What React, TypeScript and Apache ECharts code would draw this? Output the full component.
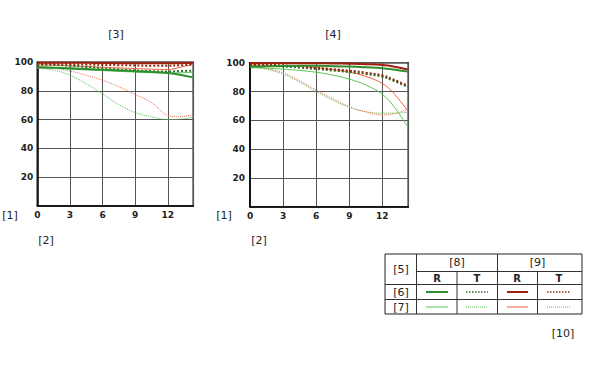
import React, { useEffect, useRef } from "react";
import * as echarts from "echarts";

// image height positions (mm) at which curves are read
const xPos = [0, 1.5, 3, 4.5, 6, 7.5, 9, 10.5, 12, 13, 14.3];
const xTicks = [0, 3, 6, 9, 12];
const yTicks = [20, 40, 60, 80, 100];

// Chart [3]
const c1GreenThickR = [96.5, 96.2, 95.8, 95.3, 94.8, 94.3, 93.8, 93.3, 92.6, 91.5, 89.5];
const c1GreenThickT = [98.5, 98.2, 97.6, 96.8, 95.8, 95.0, 94.3, 93.8, 93.6, 93.8, 94.2];
const c1GreenThinR = [96.0, 95.7, 95.2, 94.7, 94.2, 93.7, 93.2, 92.8, 92.5, 92.7, 93.0];
const c1GreenThinT = [96.0, 94.5, 91.0, 85.0, 78.0, 70.5, 65.0, 62.0, 60.0, 60.3, 61.5];
const c1RedThickR = [99.7, 99.7, 99.6, 99.6, 99.5, 99.4, 99.3, 99.3, 99.3, 99.4, 99.5];
const c1RedThickT = [99.3, 99.1, 98.8, 98.5, 98.2, 98.0, 97.8, 97.6, 97.6, 97.9, 98.3];
const c1RedThinR = [98.2, 98.0, 97.6, 97.1, 96.6, 96.1, 95.6, 95.2, 95.0, 96.3, 98.6];
const c1RedThinT = [97.5, 96.0, 94.0, 91.0, 87.5, 83.0, 77.5, 72.0, 63.0, 62.0, 63.5];

// Chart [4]
const c2GreenThickR = [97.2, 97.5, 97.7, 97.8, 97.8, 97.6, 97.3, 96.8, 96.2, 95.3, 93.8];
const c2GreenThickT = [98.3, 98.0, 97.4, 96.6, 95.6, 94.6, 93.5, 92.2, 90.3, 87.5, 83.2];
const c2GreenThinR = [96.5, 96.2, 95.5, 94.6, 93.4, 91.4, 88.6, 84.5, 78.0, 70.0, 55.5];
const c2GreenThinT = [97.5, 95.5, 92.0, 86.5, 80.0, 74.0, 69.0, 66.0, 65.0, 65.0, 65.5];
const c2RedThickR = [99.8, 99.8, 99.7, 99.7, 99.6, 99.5, 99.3, 99.0, 98.4, 97.4, 95.3];
const c2RedThickT = [98.8, 98.6, 98.1, 97.4, 96.5, 95.5, 94.5, 93.1, 91.2, 88.3, 84.0];
const c2RedThinR = [98.5, 98.3, 98.0, 97.4, 96.6, 95.2, 93.4, 90.5, 85.5, 79.0, 66.5];
const c2RedThinT = [98.0, 96.0, 93.0, 87.5, 81.0, 75.0, 69.5, 65.8, 63.8, 64.5, 67.5];

const COL = {
  greenThick: "#2e8e2e",
  greenThickDot: "#2f6f22",
  greenThin: "#58c658",
  greenThinDot: "#52be52",
  redThick: "#a11f0e",
  redThickDot: "#8a2c10",
  redThin: "#f0603c",
  redThinDot: "#ee6c4c",
};

const pairs = (ys: number[]) => ys.map((y, i) => [xPos[i], y]);

function mkSeries(idx: number, d: number[][]) {
  const [gThR, gThT, gTnR, gTnT, rThR, rThT, rTnR, rTnT] = d;
  const base = (data: number[], color: string, width: number, type: string) => ({
    type: "line",
    xAxisIndex: idx,
    yAxisIndex: idx,
    data: pairs(data),
    smooth: 0.4,
    showSymbol: false,
    symbol: "none",
    lineStyle: { color, width, type },
    z: 3,
  });
  return [
    base(gTnT, COL.greenThinDot, 1, "dotted"),
    base(rTnT, COL.redThinDot, 1, "dotted"),
    base(gTnR, COL.greenThin, 1, "solid"),
    base(rTnR, COL.redThin, 1, "solid"),
    base(gThT, COL.greenThickDot, 2, "dotted"),
    base(rThT, COL.redThickDot, 2, "dotted"),
    base(gThR, COL.greenThick, 2, "solid"),
    base(rThR, COL.redThick, 2, "solid"),
  ];
}

const FONT_BR = '11px "DejaVu Sans", sans-serif';
const txt = (text: string, x: number, y: number, font = FONT_BR) => ({
  type: "text",
  x,
  y,
  style: { text, fill: "#222", font, textAlign: "center", textVerticalAlign: "middle" },
  z: 10,
});
const ln = (x1: number, y1: number, x2: number, y2: number, stroke = "#333", lineWidth = 1, lineDash?: number[]) => ({
  type: "line",
  shape: { x1, y1, x2, y2 },
  style: { stroke, lineWidth, lineDash },
  z: 10,
});

export default function App() {
  const ref = useRef<HTMLDivElement>(null);
  useEffect(() => {
    if (!ref.current) return;
    const chart = echarts.init(ref.current, undefined, { renderer: "svg" });
    const axisLabelFont = { fontFamily: "DejaVu Sans", fontSize: 9, fontWeight: "bold" as const, color: "#222" };
    const xAxis = (gi: number) => ({
      type: "value",
      gridIndex: gi,
      min: 0,
      max: 14.35,
      interval: 3,
      axisLine: { show: true, lineStyle: { color: "#000", width: 1.5 } },
      axisTick: { show: false },
      splitLine: { show: true, lineStyle: { color: "#555", width: 1 } },
      axisLabel: {
        ...axisLabelFont,
        margin: 5,
        showMaxLabel: false,
        formatter: (v: number) => (xTicks.includes(v) ? String(v) : ""),
      },
    });
    const yAxis = (gi: number, margin: number) => ({
      type: "value",
      gridIndex: gi,
      min: 0,
      max: 100,
      interval: 20,
      axisLine: { show: true, lineStyle: { color: "#000", width: 1.5 } },
      axisTick: { show: false },
      splitLine: { show: true, lineStyle: { color: "#555", width: 1 } },
      axisLabel: {
        ...axisLabelFont,
        margin,
        showMinLabel: false,
        formatter: (v: number) => (yTicks.includes(v) ? String(v) : ""),
      },
    });
    const legendRowY = [292, 307];
    const colX = [
      [426, 448],
      [466, 488],
      [507, 528],
      [547, 570],
    ];
    const legendStyles = [
      [
        [COL.greenThick, 2, undefined],
        [COL.greenThickDot, 1.5, [1.5, 1.5]],
        [COL.redThick, 2, undefined],
        [COL.redThickDot, 1.5, [1.5, 1.5]],
      ],
      [
        [COL.greenThin, 1, undefined],
        [COL.greenThinDot, 1, [1, 1]],
        [COL.redThin, 1, undefined],
        [COL.redThinDot, 1, [1, 1]],
      ],
    ];
    const legendLines: any[] = [];
    legendRowY.forEach((y, r) =>
      colX.forEach(([a, b], c) => {
        const [color, w, dash] = legendStyles[r][c] as [string, number, number[] | undefined];
        legendLines.push(ln(a, y, b, y, color, w, dash));
      })
    );
    const boldF = 'bold 10px "DejaVu Sans", sans-serif';
    chart.setOption({
      animation: false,
      backgroundColor: "#fff",
      grid: [
        { left: 37.3, top: 62.3, width: 156, height: 143.4, show: true, borderColor: "#000", borderWidth: 1.5, containLabel: false },
        { left: 250, top: 62.7, width: 158.3, height: 144, show: true, borderColor: "#000", borderWidth: 1.5, containLabel: false },
      ],
      xAxis: [xAxis(0), xAxis(1)],
      yAxis: [yAxis(0, 4), yAxis(1, 5)],
      series: [
        ...mkSeries(0, [c1GreenThickR, c1GreenThickT, c1GreenThinR, c1GreenThinT, c1RedThickR, c1RedThickT, c1RedThinR, c1RedThinT]),
        ...mkSeries(1, [c2GreenThickR, c2GreenThickT, c2GreenThinR, c2GreenThinT, c2RedThickR, c2RedThickT, c2RedThinR, c2RedThinT]),
      ],
      graphic: [
        txt("[3]", 116, 34),
        txt("[4]", 333, 34),
        txt("[1]", 10, 215),
        txt("[2]", 46, 240),
        txt("[1]", 224, 215),
        txt("[2]", 259, 240),
        // legend table
        {
          type: "rect",
          shape: { x: 385, y: 254, width: 197, height: 60 },
          style: { fill: "none", stroke: "#222", lineWidth: 1 },
          z: 10,
        },
        ln(416.5, 254, 416.5, 314),
        ln(497.5, 254, 497.5, 314),
        ln(457, 271.5, 457, 314),
        ln(537.5, 271.5, 537.5, 314),
        ln(416.5, 271.5, 582, 271.5),
        ln(385, 284.5, 582, 284.5),
        ln(385, 299.5, 582, 299.5),
        txt("[5]", 401, 269),
        txt("[8]", 457, 262.5),
        txt("[9]", 537.5, 262.5),
        txt("R", 437, 278, boldF),
        txt("T", 477, 278, boldF),
        txt("R", 517, 278, boldF),
        txt("T", 559, 278, boldF),
        txt("[6]", 401, 292),
        txt("[7]", 401, 307),
        txt("[10]", 563, 333),
        ...legendLines,
      ],
    });
    return () => chart.dispose();
  }, []);
  return (
    <div
      ref={ref}
      style={{ position: "fixed", left: 0, top: 0, width: 600, height: 365, background: "#fff" }}
    />
  );
}
